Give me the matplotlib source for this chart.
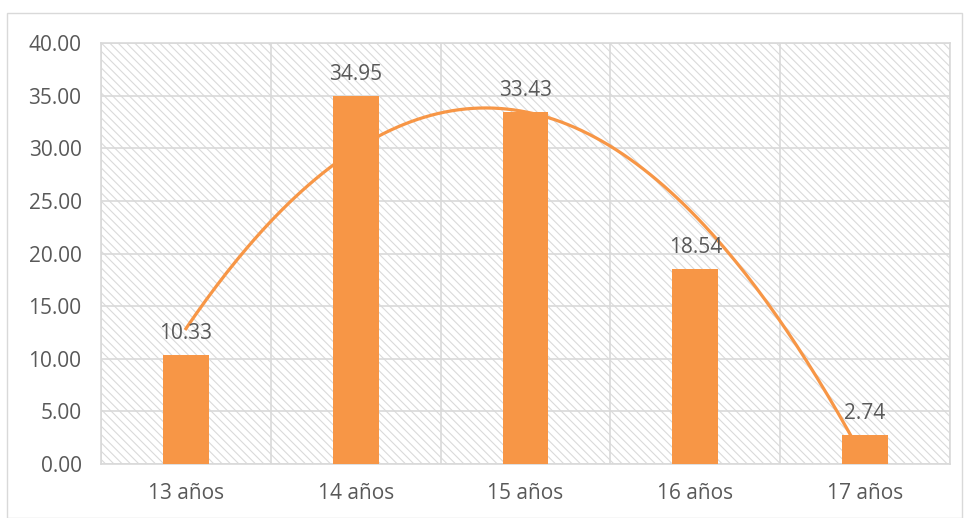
import matplotlib
matplotlib.use("Agg")
import matplotlib.pyplot as plt
import numpy as np
from matplotlib.patches import Rectangle

categories = ["13 años", "14 años", "15 años", "16 años", "17 años"]
values = [10.33, 34.95, 33.43, 18.54, 2.74]
yticks = [0, 5, 10, 15, 20, 25, 30, 35, 40]

orange = "#F79646"
grid_c = "#d9d9d9"
text_c = "#595959"

plt.rcParams['font.family'] = ['Open Sans', 'DejaVu Sans']
plt.rcParams['hatch.linewidth'] = 0.8
plt.rcParams['hatch.color'] = '#dadada'

fig = plt.figure(figsize=(9.65, 5.18), dpi=100)
fig.patches.append(Rectangle((7/965, 0), (962-7)/965, 1-13/518, transform=fig.transFigure,
                             fill=False, edgecolor=grid_c, linewidth=1.0, zorder=0))
ax = fig.add_axes([101/965, 1-464/518, (950-101)/965, (464-43)/518])

x = np.arange(1, len(values)+1)
# hatched background
ax.add_patch(Rectangle((0, 0), 1, 1, transform=ax.transAxes, facecolor='white',
                       edgecolor='#dadada', hatch='\\\\\\\\', linewidth=0, zorder=0))

ax.set_xlim(0.5, len(values)+0.5)
ax.set_ylim(0, 40)
ax.set_yticks(yticks)
ax.set_yticklabels([f"{v:.2f}" for v in yticks])
ax.set_xticks(x)
ax.set_xticklabels(categories)

for yv in yticks:
    ax.axhline(yv, color=grid_c, linewidth=1.2, zorder=1)
for xv in np.arange(0.5, len(values)+1, 1):
    ax.axvline(xv, color=grid_c, linewidth=1.2, zorder=1)

# polynomial (order 2) trendline
coef = np.polyfit(x, values, 2)
xs = np.linspace(1, len(values), 200)
ax.plot(xs, np.polyval(coef, xs), color=orange, linewidth=2.3, zorder=2)

ax.bar(x, values, width=0.27, color=orange, zorder=3)
for xi, v in zip(x, values):
    ax.annotate(f"{v:.2f}", (xi, v), xytext=(0, 8), textcoords='offset points',
                ha='center', va='bottom', fontsize=15, color=text_c, zorder=4)

for s in ax.spines.values():
    s.set_color(grid_c)
    s.set_linewidth(1.2)
ax.tick_params(axis='both', length=0, labelsize=15, labelcolor=text_c)
ax.tick_params(axis='y', pad=14)
ax.tick_params(axis='x', pad=14)

fig.savefig("out.png", dpi=100)
